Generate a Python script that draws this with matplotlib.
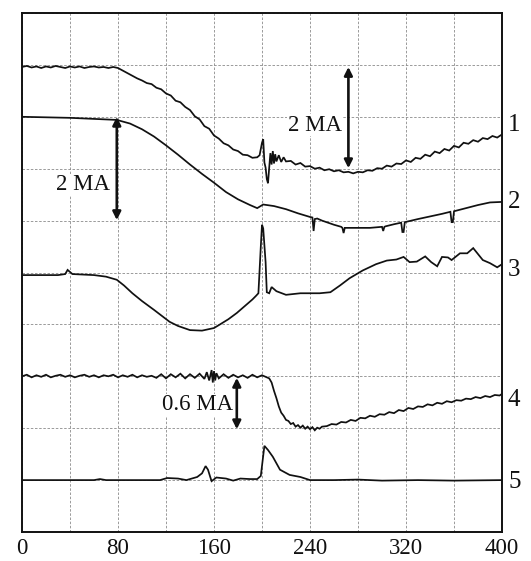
import matplotlib
matplotlib.use("Agg")
import matplotlib.pyplot as plt

# ---------------- data ----------------
x_ticks = [0, 80, 160, 240, 320, 400]
trace_labels = ["1", "2", "3", "4", "5"]
label_y = [7.84, 6.36, 5.05, 2.54, 0.96]

t1_x = [0, 4, 8, 12, 16, 20, 24, 28, 32, 36, 40, 44, 48, 52, 56, 60, 64, 68, 72, 76,
        80, 84, 88, 92, 96, 100, 104, 108, 112, 116, 120, 124, 128, 132, 136, 140, 144,
        148, 152, 156, 160, 164, 168, 172, 176, 180, 184, 188, 192, 196, 198, 200, 201,
        202, 203, 204, 205, 206, 207, 208, 209, 210, 211, 212, 214, 216, 218, 220, 224,
        228, 232, 236, 240, 244, 248, 252, 256, 260, 264, 268, 272, 276, 280, 284, 288,
        292, 296, 300, 304, 308, 312, 316, 320, 324, 328, 332, 336, 340, 344, 348, 352,
        356, 360, 364, 368, 372, 376, 380, 384, 388, 392, 396, 400]
t1_y = [8.96, 8.98, 8.95, 8.97, 8.94, 8.97, 8.95, 8.98, 8.96, 8.94, 8.97, 8.95, 8.97,
        8.94, 8.96, 8.97, 8.95, 8.96, 8.94, 8.96, 8.94, 8.89, 8.84, 8.79, 8.74, 8.70,
        8.65, 8.63, 8.56, 8.53, 8.45, 8.41, 8.31, 8.28, 8.19, 8.13, 8.01, 7.95, 7.82,
        7.77, 7.64, 7.58, 7.49, 7.45, 7.37, 7.34, 7.27, 7.26, 7.21, 7.22, 7.26, 7.50,
        7.57, 7.12, 7.02, 6.80, 6.72, 7.02, 7.30, 7.08, 7.34, 7.10, 7.28, 7.14, 7.26,
        7.13, 7.22, 7.14, 7.15, 7.08, 7.11, 7.04, 7.05, 7.00, 7.02, 6.97, 6.99, 6.95,
        6.97, 6.93, 6.94, 6.91, 6.94, 6.93, 6.97, 6.96, 7.01, 7.00, 7.06, 7.04, 7.10,
        7.09, 7.16, 7.13, 7.21, 7.19, 7.27, 7.24, 7.33, 7.30, 7.38, 7.35, 7.44, 7.41,
        7.50, 7.48, 7.55, 7.52, 7.59, 7.57, 7.63, 7.60, 7.66]

t2_x = [0, 40, 79, 90, 100, 110, 120, 130, 140, 150, 160, 170, 180, 190, 196, 201, 210,
        220, 230, 240, 242, 243, 244, 246, 250, 260, 266, 267, 268, 269, 270, 280, 290,
        300, 301, 302, 303, 310, 316, 317, 318, 319, 330, 340, 350, 357, 358, 359, 360,
        370, 380, 390, 400]
t2_y = [8.00, 7.98, 7.94, 7.87, 7.76, 7.62, 7.45, 7.27, 7.08, 6.90, 6.73, 6.55, 6.41,
        6.30, 6.24, 6.31, 6.28, 6.22, 6.14, 6.07, 6.06, 5.80, 6.03, 6.04, 6.00, 5.92,
        5.88, 5.86, 5.76, 5.86, 5.86, 5.86, 5.86, 5.88, 5.80, 5.88, 5.89, 5.93, 5.96,
        5.78, 5.78, 5.97, 6.03, 6.08, 6.13, 6.17, 5.97, 5.97, 6.18, 6.24, 6.30, 6.35,
        6.36]

t3_x = [0, 30, 36, 38, 42, 60, 70, 79, 85, 92, 100, 110, 123, 130, 140, 150, 160, 165,
        172, 179, 186, 192, 195, 197, 199, 200, 201, 203, 204, 206, 208, 212, 220, 232,
        248, 257, 265, 273, 284, 295, 304, 312, 318, 323, 329, 336, 341, 346, 350, 355,
        358, 365, 371, 376, 384, 390, 396, 400]
t3_y = [4.95, 4.95, 4.97, 5.05, 4.97, 4.95, 4.92, 4.86, 4.75, 4.60, 4.45, 4.28, 4.05,
        3.97, 3.89, 3.88, 3.93, 4.00, 4.10, 4.22, 4.36, 4.48, 4.55, 4.60, 5.50, 5.92,
        5.85, 5.20, 4.62, 4.60, 4.72, 4.64, 4.57, 4.60, 4.60, 4.62, 4.75, 4.89, 5.04,
        5.16, 5.23, 5.25, 5.30, 5.20, 5.21, 5.31, 5.20, 5.12, 5.30, 5.29, 5.24, 5.37,
        5.37, 5.47, 5.24, 5.18, 5.10, 5.16]

t4_x = [0, 4, 8, 12, 16, 20, 24, 28, 32, 36, 40, 44, 48, 52, 56, 60, 64, 68, 72, 76, 80,
        84, 88, 92, 96, 100, 104, 108, 112, 116, 120, 124, 128, 132, 136, 140, 144, 148,
        152, 154, 156, 158, 159, 160, 161, 162, 164, 168, 172, 176, 180, 184, 188, 192,
        196, 200, 203, 206, 208, 210, 212, 214, 216, 218, 220, 222, 224, 226, 228, 230,
        232, 234, 236, 238, 240, 242, 244, 246, 248, 250, 254, 258, 262, 266, 270, 274,
        278, 282, 286, 290, 294, 298, 302, 306, 310, 314, 318, 322, 326, 330, 334, 338,
        342, 346, 350, 354, 358, 362, 366, 370, 374, 378, 382, 386, 390, 394, 398, 400]
t4_y = [3.00, 3.03, 2.98, 3.02, 2.99, 3.03, 2.98, 3.01, 3.03, 2.99, 3.02, 2.98, 3.01,
        3.03, 2.99, 3.02, 2.98, 3.02, 3.00, 3.03, 2.98, 3.02, 2.99, 3.03, 2.98, 3.02,
        2.99, 3.01, 2.97, 3.04, 2.96, 3.04, 2.98, 3.05, 2.96, 3.04, 2.97, 3.05, 2.95,
        3.08, 2.92, 3.12, 2.88, 3.10, 2.92, 3.06, 2.96, 3.04, 2.97, 3.03, 2.98, 3.02,
        2.97, 3.03, 2.98, 3.02, 2.99, 2.96, 2.88, 2.72, 2.58, 2.42, 2.30, 2.24, 2.16,
        2.14, 2.08, 2.10, 2.03, 2.06, 2.01, 2.05, 1.99, 2.03, 1.98, 2.02, 1.96, 2.01,
        1.99, 2.03, 2.04, 2.08, 2.07, 2.12, 2.11, 2.16, 2.14, 2.20, 2.19, 2.24, 2.22,
        2.27, 2.26, 2.31, 2.29, 2.35, 2.33, 2.39, 2.37, 2.42, 2.41, 2.46, 2.44, 2.49,
        2.47, 2.52, 2.50, 2.54, 2.53, 2.57, 2.56, 2.60, 2.58, 2.62, 2.60, 2.64, 2.63,
        2.66]

t5_x = [0, 60, 65, 70, 115, 121, 130, 137, 143, 146, 150, 153, 155, 157, 158, 162, 170,
        176, 182, 190, 196, 199, 202, 205, 209, 215, 223, 232, 240, 260, 280, 300, 330,
        360, 400]
t5_y = [1.00, 1.00, 1.02, 1.00, 1.00, 1.04, 1.03, 1.00, 1.04, 1.06, 1.13, 1.27, 1.20,
        1.05, 0.98, 1.05, 1.03, 0.99, 1.03, 1.02, 1.02, 1.08, 1.66, 1.58, 1.45, 1.20,
        1.10, 1.06, 1.00, 1.00, 1.01, 0.99, 1.00, 0.99, 1.00]

arrow_x = [272, 79, 179]
arrow_top = [8.96, 8.00, 2.97]
arrow_bottom = [7.01, 6.01, 1.98]
arrow_text = ["2 MA", "2 MA", "0.6 MA"]
arrow_text_x = [244, 51, 146]
arrow_text_y = [7.84, 6.69, 2.45]

# ---------------- figure ----------------
serif = ["Liberation Serif", "DejaVu Serif"]
fig = plt.figure(figsize=(5.31, 5.61), dpi=100)
ax = fig.add_axes([22 / 531, 1 - 532 / 561, 480 / 531, 519 / 561])

ax.set_xlim(0, 400)
ax.set_ylim(0, 10)
ax.set_xticks(x_ticks)
ax.set_xticks(range(0, 401, 40), minor=True)
ax.set_yticks(range(0, 11))
ax.set_yticklabels([])
ax.tick_params(axis="both", which="both", length=0)
ax.tick_params(axis="x", pad=4)
for lab in ax.get_xticklabels():
    lab.set_fontfamily(serif)
    lab.set_fontsize(16.5)
    lab.set_color("#111111")
ax.grid(True, which="both", color="#8a8a8a", linestyle=(0, (3, 2)), linewidth=0.6)
ax.set_axisbelow(True)
for sp in ax.spines.values():
    sp.set_linewidth(1.4)
    sp.set_color("#111111")

for xs, ys in [(t1_x, t1_y), (t2_x, t2_y), (t3_x, t3_y), (t4_x, t4_y), (t5_x, t5_y)]:
    ax.plot(xs, ys, color="#111111", linewidth=1.25, solid_joinstyle="miter")

for lab, ly in zip(trace_labels, label_y):
    ax.text(405, ly, lab, fontsize=18, family=serif, va="center", ha="left",
            clip_on=False, color="#111111")

for ax_x, top, bot, txt, tx, ty in zip(arrow_x, arrow_top, arrow_bottom,
                                       arrow_text, arrow_text_x, arrow_text_y):
    ax.annotate("", xy=(ax_x, top), xytext=(ax_x, bot),
                arrowprops=dict(arrowstyle="<|-|>", color="#111111", lw=1.9,
                                mutation_scale=12, shrinkA=0, shrinkB=0))
    ax.text(tx, ty, txt, fontsize=16.5, family=serif, va="center", ha="center",
            color="#111111",
            bbox=dict(facecolor="white", edgecolor="none", pad=0.5))

fig.savefig("out.png", dpi=100)
